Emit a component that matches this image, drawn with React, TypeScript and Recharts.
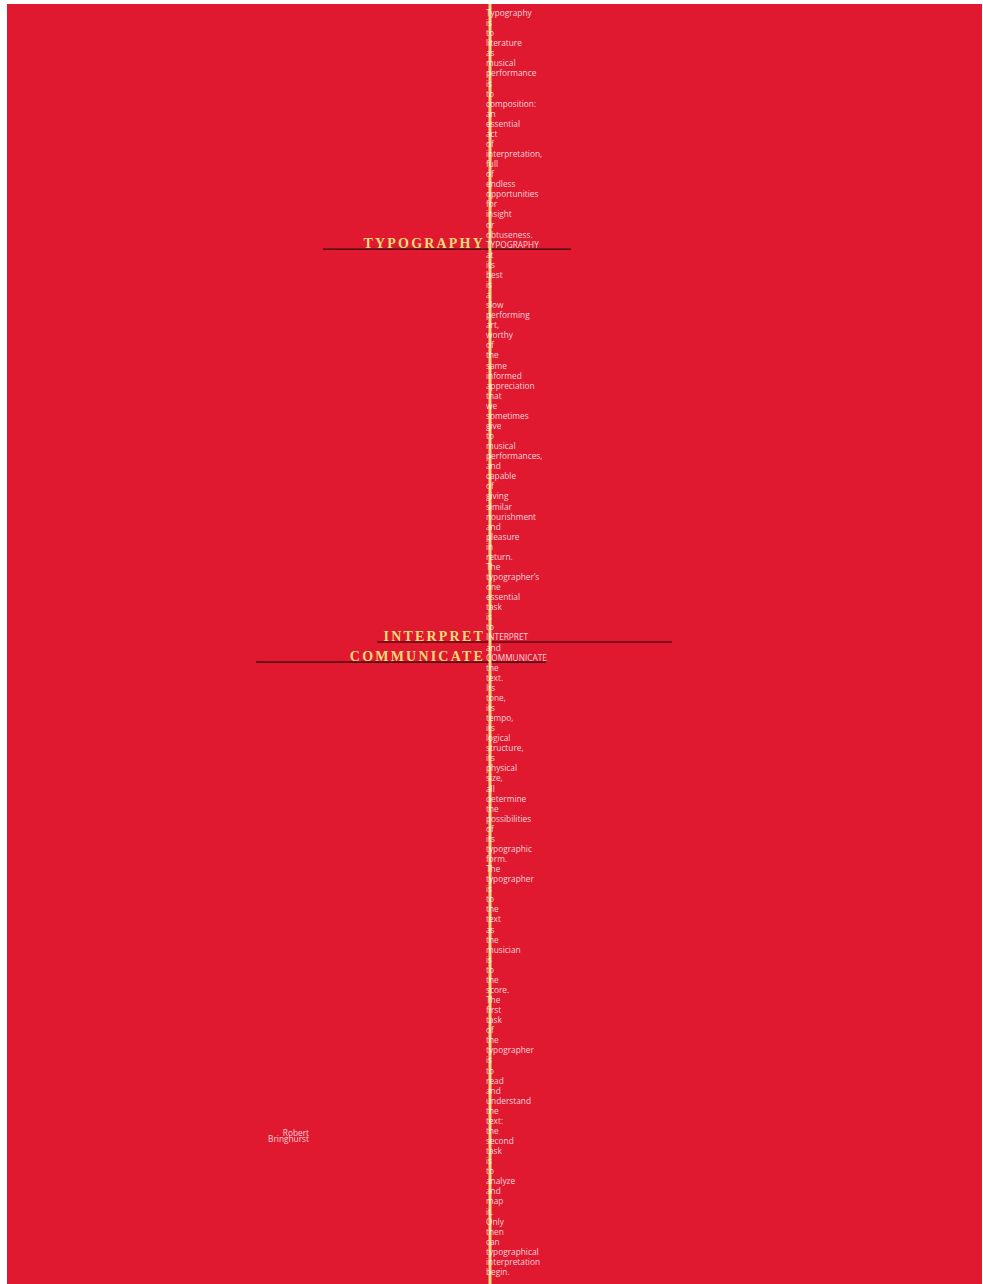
import { ScatterChart, Scatter, XAxis, YAxis, ReferenceLine, ReferenceDot } from 'recharts';

// the quote, one word per row, top to bottom
const WORDS = [
  'Typography', 'is', 'to', 'literature', 'as', 'musical', 'performance', 'is', 'to', 'composition:',
  'an', 'essential', 'act', 'of', 'interpretation,', 'full', 'of', 'endless', 'opportunities', 'for',
  'insight', 'or', 'obtuseness.', 'TYPOGRAPHY', 'at', 'its', 'best', 'is', 'a', 'slow',
  'performing', 'art,', 'worthy', 'of', 'the', 'same', 'informed', 'appreciation', 'that', 'we',
  'sometimes', 'give', 'to', 'musical', 'performances,', 'and', 'capable', 'of', 'giving', 'similar',
  'nourishment', 'and', 'pleasure', 'in', 'return.', 'The', 'typographer\u2019s', 'one', 'essential', 'task',
  'is', 'to', 'INTERPRET', 'and', 'COMMUNICATE', 'the', 'text.', 'Its', 'tone,', 'its',
  'tempo,', 'its', 'logical', 'structure,', 'its', 'physical', 'size,', 'all', 'determine', 'the',
  'possibilities', 'of', 'its', 'typographic', 'form.', 'The', 'typographer', 'is', 'to', 'the',
  'text', 'as', 'the', 'musician', 'is', 'to', 'the', 'score.', 'The', 'first',
  'task', 'of', 'the', 'typographer', 'is', 'to', 'read', 'and', 'understand', 'the',
  'text:', 'the', 'second', 'task', 'is', 'to', 'analyze', 'and', 'map', 'it.',
  'Only', 'then', 'can', 'typographical', 'interpretation', 'begin.',
];

// emphasised words: row index and the reach of the rule under them (px from the spine)
const HIGHLIGHT_ROWS = [23, 62, 64];
const HIGHLIGHT_FROM = [-167, -113, -234];
const HIGHLIGHT_TO = [81, 182, 56];

const AUTHOR = ['Robert', 'Bringhurst'];
const AUTHOR_POS = { x: -181, y: 111.2 };

const RED = '#e01931';
const YELLOW = '#f6dc78';
const SMALL_FONT = '"Open Sans", "Liberation Sans", sans-serif';

const wordData = WORDS.map((w, i) => ({ x: 0, y: i, word: w }));
const highlightData = HIGHLIGHT_ROWS.map((row, i) => ({
  x: 0,
  y: row,
  word: WORDS[row],
  from: HIGHLIGHT_FROM[i],
  to: HIGHLIGHT_TO[i],
}));

const WordShape = (props: any) => {
  const { cx, cy, payload } = props;
  return (
    <text
      x={cx - 4}
      y={cy + 3}
      fill="#fff"
      fillOpacity={0.82}
      fontFamily={SMALL_FONT}
      fontSize={8.3}
    >
      {payload.word}
    </text>
  );
};

const BigLabel = (props: any) => {
  const { cx, cy, payload } = props;
  return (
    <text
      x={cx - 5}
      y={cy + 3.5}
      textAnchor="end"
      fill={YELLOW}
      fontFamily='"Liberation Serif", "DejaVu Serif", serif'
      fontWeight="bold"
      fontSize={14}
      letterSpacing={2.2}
    >
      {payload.word}
    </text>
  );
};

const Rule = (strong: boolean) => (props: any) => {
  const { x1, y1, x2, y2 } = props;
  return (
    <line
      x1={x1}
      x2={x2}
      y1={y1 + 4.5}
      y2={y2 + 4.5}
      stroke="#000"
      strokeOpacity={strong ? 1 : 0.6}
      strokeWidth={strong ? 1 : 1.6}
    />
  );
};

const AuthorShape = (props: any) => {
  const { cx, cy } = props;
  return (
    <text x={cx} y={cy + 3} textAnchor="end" fill="#fff" fillOpacity={0.82} fontFamily={SMALL_FONT} fontSize={8.3}>
      {AUTHOR.map((t, i) => (
        <tspan key={t} x={cx} dy={i === 0 ? 0 : 6}>
          {t}
        </tspan>
      ))}
    </text>
  );
};

export default function App() {
  return (
    <div style={{ position: 'absolute', left: 7, top: 4, width: 975, height: 1280, background: RED }}>
      <ScatterChart width={975} height={1280} margin={{ top: 0, right: 0, bottom: 0, left: 0 }}>
        <XAxis type="number" dataKey="x" domain={[-483, 492]} hide />
        <YAxis
          type="number"
          dataKey="y"
          domain={[0, WORDS.length - 1]}
          reversed
          hide
          padding={{ top: 9, bottom: 12 }}
        />
        {highlightData.map((h, i) => (
          <ReferenceLine
            key={h.word}
            segment={[
              { x: h.from, y: h.y },
              { x: h.to, y: h.y },
            ]}
            shape={Rule(i === 0)}
            ifOverflow="visible"
          />
        ))}
        <Scatter data={wordData} shape={WordShape} isAnimationActive={false} />
        <Scatter data={highlightData} shape={BigLabel} isAnimationActive={false} />
        <ReferenceDot x={AUTHOR_POS.x} y={AUTHOR_POS.y} r={0} shape={AuthorShape} ifOverflow="visible" />
        <ReferenceLine x={0} stroke={YELLOW} strokeWidth={3} />
      </ScatterChart>
    </div>
  );
}
